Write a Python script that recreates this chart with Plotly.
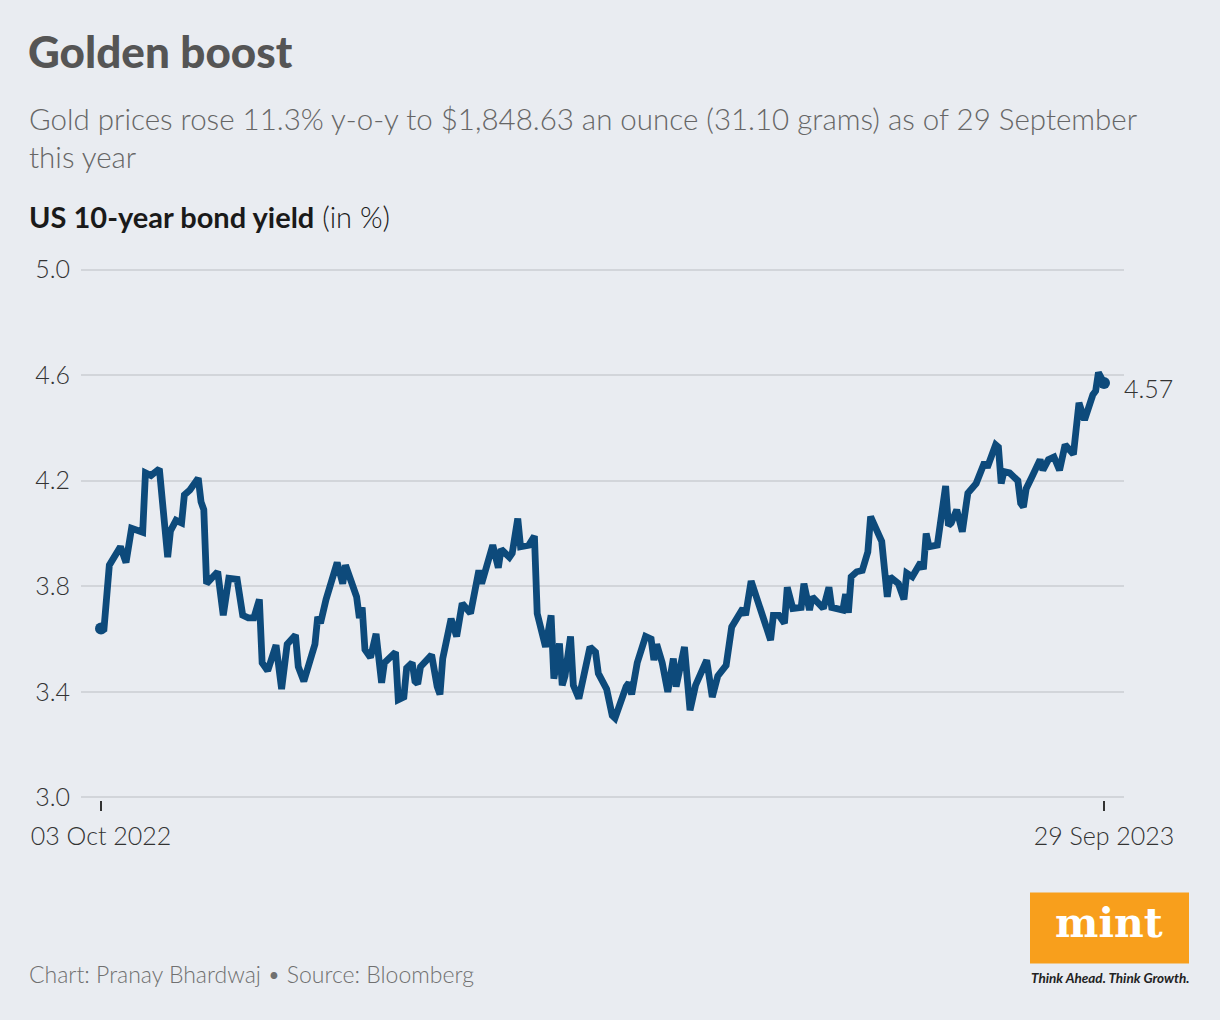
import plotly.graph_objects as go
import pandas as pd

# US 10-year bond yield (day offsets from 03 Oct 2022)
start_date = "2022-10-03"
day_offsets = [
    0, 1, 3, 4, 7, 9, 11, 15, 16, 18, 21, 24, 25, 27, 29, 30, 32, 35, 36, 37,
    38, 42, 44, 46, 49, 51, 53, 55, 57, 58, 60, 63, 65, 67, 70, 71, 73, 76, 77, 78,
    79, 81, 85, 87, 88, 90, 92, 93, 94, 95, 97, 99, 101, 102, 106, 107, 109, 110, 112, 113,
    114, 115, 119, 121, 122, 123, 126, 128, 130, 133, 136, 137, 141, 143, 144, 147, 148, 150, 151, 154,
    156, 157, 160, 162, 163, 165, 166, 167, 169, 170, 172, 176, 178, 179, 182, 184, 185, 189, 190, 191,
    193, 196, 198, 199, 200, 202, 204, 206, 207, 210, 212, 214, 218, 220, 222, 225, 226, 227, 231, 232,
    234, 238, 241, 242, 244, 246, 247, 249, 252, 253, 255, 256, 260, 262, 263, 267, 268, 269, 270, 272,
    274, 276, 277, 281, 283, 284, 287, 289, 290, 292, 295, 296, 297, 298, 301, 304, 305, 306, 308, 310,
    312, 315, 316, 318, 319, 322, 323, 324, 325, 327, 330, 331, 332, 333, 335, 338, 339, 341, 343, 345,
    347, 350, 352, 354, 357, 358, 359, 360, 361,
]
yields = [
    3.64, 3.63, 3.88, 3.90, 3.95, 3.89, 4.02, 4.005, 4.23, 4.22, 4.245, 3.91, 4.01, 4.05, 4.04, 4.146, 4.165, 4.21, 4.12, 4.09,
    3.81, 3.855, 3.69, 3.83, 3.826, 3.69, 3.68, 3.68, 3.75, 3.51, 3.48, 3.577, 3.41, 3.58, 3.615, 3.495, 3.44, 3.545, 3.58, 3.684,
    3.66, 3.75, 3.89, 3.81, 3.88, 3.82, 3.76, 3.68, 3.72, 3.56, 3.53, 3.62, 3.434, 3.51, 3.55, 3.37, 3.38, 3.49, 3.51, 3.44,
    3.43, 3.495, 3.54, 3.42, 3.39, 3.526, 3.677, 3.61, 3.735, 3.697, 3.86, 3.81, 3.956, 3.87, 3.94, 3.91, 3.925, 4.057, 3.95, 3.956,
    3.99, 3.697, 3.57, 3.69, 3.45, 3.583, 3.425, 3.46, 3.61, 3.425, 3.375, 3.57, 3.55, 3.47, 3.41, 3.31, 3.30, 3.42, 3.434, 3.39,
    3.51, 3.61, 3.60, 3.52, 3.58, 3.51, 3.40, 3.526, 3.42, 3.57, 3.33, 3.425, 3.52, 3.38, 3.46, 3.50, 3.565, 3.646, 3.716, 3.69,
    3.82, 3.70, 3.596, 3.69, 3.69, 3.66, 3.796, 3.716, 3.72, 3.81, 3.71, 3.76, 3.716, 3.796, 3.72, 3.71, 3.77, 3.70, 3.836, 3.855,
    3.86, 3.93, 4.064, 3.97, 3.76, 3.836, 3.81, 3.75, 3.85, 3.836, 3.89, 3.865, 4.00, 3.95, 3.956, 4.18, 4.03, 4.04, 4.09, 4.007,
    4.153, 4.19, 4.213, 4.27, 4.25, 4.336, 4.327, 4.19, 4.235, 4.23, 4.20, 4.115, 4.10, 4.17, 4.213, 4.28, 4.24, 4.28, 4.29, 4.24,
    4.336, 4.30, 4.495, 4.43, 4.526, 4.54, 4.61, 4.585, 4.57,
]
tick_dates = ["2022-10-03", "2023-09-29"]
tick_labels = ["03 Oct 2022", "29 Sep 2023"]
y_ticks = [3.0, 3.4, 3.8, 4.2, 4.6, 5.0]
last_label = "4.57"

dates = pd.Timestamp(start_date) + pd.to_timedelta(day_offsets, unit="D")

W, H = 1220, 1020
PL, PR = 81, 1124          # plot area left/right in pixels
Y_TOP, Y_BOT = 270, 797    # pixel rows of 5.0 and 3.0
PAD = 0.01                 # small range padding so the edge gridlines show
ppu = (Y_BOT - Y_TOP) / 2.0
PT, PB = Y_TOP - PAD * ppu, Y_BOT + PAD * ppu


def px(x):
    return (x - PL) / (PR - PL)


def py(y):
    return (PB - y) / (PB - PT)


blue = "#0d4a7b"
font = "Lato"

fig = go.Figure()
fig.add_trace(go.Scatter(
    x=dates, y=yields, mode="lines",
    line=dict(color=blue, width=6.8, shape="linear"),
    hoverinfo="skip",
))
fig.add_trace(go.Scatter(
    x=[dates[0], dates[-1]], y=[yields[0], yields[-1]], mode="markers",
    marker=dict(color=blue, size=12),
    hoverinfo="skip",
))

x0 = pd.Timestamp(start_date) - pd.Timedelta(days=7.2)
x1 = pd.Timestamp(start_date) + pd.Timedelta(days=368.2)

fig.update_layout(
    width=W, height=H,
    paper_bgcolor="#e9ecf1", plot_bgcolor="#e9ecf1",
    margin=dict(l=PL, r=W - PR, t=PT, b=H - PB),
    showlegend=False,
    font=dict(family=font, color="#333333"),
    xaxis=dict(
        range=[x0, x1], tickvals=pd.to_datetime(tick_dates), ticktext=tick_labels,
        showgrid=False, zeroline=False, showline=False,
        ticks="outside", ticklen=10, tickwidth=2, tickcolor="#333333",
        tickfont=dict(size=25, color="#333333", family=font, weight=300),
        ticklabelstandoff=4,
    ),
    yaxis=dict(
        range=[3.0 - PAD, 5.0 + PAD], tickvals=y_ticks, tickformat=".1f",
        showgrid=True, gridcolor="#d2d5da", gridwidth=2,
        zeroline=False, showline=False, ticks="",
        tickfont=dict(size=25, color="#333333", family=font, weight=300),
        ticklabelstandoff=10,
    ),
)

annotations = [
    dict(x=px(26), y=py(52), text="Golden boost", xanchor="left", yanchor="middle",
         font=dict(size=44, color="#555555", family=font, weight=900)),
    dict(x=px(27), y=py(138), text="Gold prices rose 11.3% y-o-y to $1,848.63 an ounce (31.10 grams) as of 29 September<br>this year",
         xanchor="left", yanchor="middle", align="left",
         font=dict(size=29.5, color="#666666", family=font, weight=300)),
    dict(x=px(27), y=py(217), text="<b>US 10-year bond yield</b> (in %)", xanchor="left", yanchor="middle",
         font=dict(size=29, color="#1a1a1a", family=font, weight=300)),
    dict(x=dates[-1], y=yields[-1], xref="x", yref="y", text=last_label, xanchor="left", yanchor="middle",
         xshift=18, yshift=-5, showarrow=False,
         font=dict(size=25, color="#333333", family=font, weight=300)),
    dict(x=px(27), y=py(973), text="Chart: Pranay Bhardwaj • Source: Bloomberg", xanchor="left", yanchor="middle",
         font=dict(size=23, color="#707070", family=font, weight=300)),
    dict(x=px(1109), y=py(922), text="<b>mint</b>", xanchor="center", yanchor="middle",
         font=dict(size=41, color="#ffffff", family="DejaVu Serif")),
    dict(x=px(1110), y=py(977), text="<b><i>Think Ahead. Think Growth.</i></b>", xanchor="center", yanchor="middle",
         font=dict(size=13.5, color="#222222", family=font)),
]
for a in annotations:
    a.setdefault("xref", "paper")
    a.setdefault("yref", "paper")
    a.setdefault("showarrow", False)
fig.update_layout(annotations=annotations)

fig.add_shape(type="rect", xref="paper", yref="paper",
              x0=px(1030), x1=px(1189), y0=py(963), y1=py(892),
              fillcolor="#f89f1c", line=dict(width=0), layer="below")

fig.write_html(
    "out.html",
    config={"displayModeBar": False},
    post_script="document.body.style.margin='0';document.body.style.background='#e9ecf1';",
)
